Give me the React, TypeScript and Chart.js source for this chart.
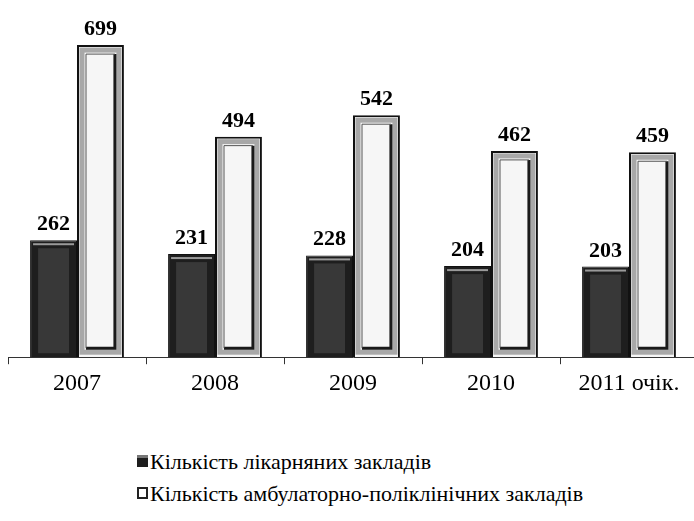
import React, { useEffect, useRef } from "react";
import { Chart, registerables } from "chart.js";

Chart.register(...registerables);

const categories = ["2007", "2008", "2009", "2010", "2011 очік."];
const hospitals = [262, 231, 228, 204, 203];
const outpatient = [699, 494, 542, 462, 459];
const seriesNames = [
  "Кількість лікарняних закладів",
  "Кількість амбулаторно-поліклінічних закладів",
];

const SERIF = "'Liberation Serif', 'Times New Roman', serif";

const barDecor = {
  id: "barDecor",
  afterDatasetsDraw(chart: any) {
    const ctx = chart.ctx;
    ctx.save();
    // dark bars: top highlight and texture
    chart.getDatasetMeta(0).data.forEach((bar: any) => {
      const { x, y, base, width } = bar.getProps(["x", "y", "base", "width"], true);
      const l = x - width / 2;
      ctx.fillStyle = "#383838";
      ctx.fillRect(l + 8, y + 8, width - 16, base - y - 12);
      ctx.fillStyle = "#9a9a9a";
      ctx.fillRect(l + 3, y + 3, width - 6, 2);
    });
    // white bars: bevelled frame
    chart.getDatasetMeta(1).data.forEach((bar: any) => {
      const { x, y, base, width } = bar.getProps(["x", "y", "base", "width"], true);
      const l = x - width / 2;
      const h = base - y;
      ctx.strokeStyle = "#a8a8a8";
      ctx.lineWidth = 5;
      ctx.strokeRect(l + 5, y + 5, width - 10, h - 10);
      ctx.strokeStyle = "#1a1a1a";
      ctx.lineWidth = 3;
      ctx.beginPath();
      ctx.moveTo(l + width - 9, y + 9);
      ctx.lineTo(l + width - 9, base - 9);
      ctx.lineTo(l + 9, base - 9);
      ctx.stroke();
      ctx.strokeStyle = "#555";
      ctx.lineWidth = 1;
      ctx.beginPath();
      ctx.moveTo(l + 9, base - 9);
      ctx.lineTo(l + 9, y + 9);
      ctx.lineTo(l + width - 9, y + 9);
      ctx.stroke();
    });
    // value labels
    ctx.fillStyle = "#000";
    ctx.font = `bold 22px ${SERIF}`;
    ctx.textAlign = "center";
    ctx.textBaseline = "alphabetic";
    chart.data.datasets.forEach((ds: any, i: number) => {
      chart.getDatasetMeta(i).data.forEach((bar: any, j: number) => {
        ctx.fillText(String(ds.data[j]), bar.x, bar.y - 10);
      });
    });
    ctx.restore();
  },
};

export default function App() {
  const ref = useRef<HTMLCanvasElement>(null);
  useEffect(() => {
    if (!ref.current) return;
    const chart = new Chart(ref.current, {
      type: "bar",
      data: {
        labels: categories,
        datasets: [
          {
            label: seriesNames[0],
            data: hospitals,
            backgroundColor: "#1e1e1e",
            borderColor: "#111",
            borderWidth: 1,
          },
          {
            label: seriesNames[1],
            data: outpatient,
            backgroundColor: "#f6f6f6",
            borderColor: "#111",
            borderWidth: 2,
          },
        ],
      },
      options: {
        responsive: false,
        animation: false,
        devicePixelRatio: 1,
        layout: { padding: { left: 8, right: 4, top: 0, bottom: 7 } },
        plugins: { legend: { display: false }, tooltip: { enabled: false } },
        datasets: { bar: { categoryPercentage: 0.68, barPercentage: 1.0 } },
        scales: {
          x: {
            grid: {
              display: true,
              drawOnChartArea: false,
              drawTicks: true,
              tickLength: 7,
              offset: true,
              color: "#333",
            },
            border: { display: true, color: "#333", width: 1 },
            ticks: {
              color: "#000",
              font: { family: SERIF, size: 24 },
              padding: 5,
            },
          },
          y: { display: false, min: 0, max: 800 },
        },
      },
      plugins: [barDecor],
    });
    return () => chart.destroy();
  }, []);

  const textStyle: React.CSSProperties = {
    position: "absolute",
    fontFamily: SERIF,
    fontSize: 22,
    lineHeight: "24px",
    whiteSpace: "nowrap",
    color: "#000",
  };

  return (
    <div
      style={{
        position: "absolute",
        left: 0,
        top: 0,
        width: 694,
        height: 521,
        overflow: "hidden",
        background: "#fff",
      }}
    >
      <canvas ref={ref} width={702} height={410} style={{ position: "absolute", left: 0, top: 0 }} />
      <div
        style={{
          position: "absolute",
          left: 137,
          top: 455,
          width: 11,
          height: 12,
          background: "#1e1e1e",
          boxSizing: "border-box",
          borderTop: "3px solid #777",
        }}
      />
      <div style={{ ...textStyle, left: 150, top: 450 }}>{seriesNames[0]}</div>
      <div
        style={{
          position: "absolute",
          left: 137,
          top: 487,
          width: 11,
          height: 12,
          background: "#fff",
          boxSizing: "border-box",
          border: "2px solid #222",
        }}
      />
      <div style={{ ...textStyle, left: 150, top: 482 }}>{seriesNames[1]}</div>
    </div>
  );
}
